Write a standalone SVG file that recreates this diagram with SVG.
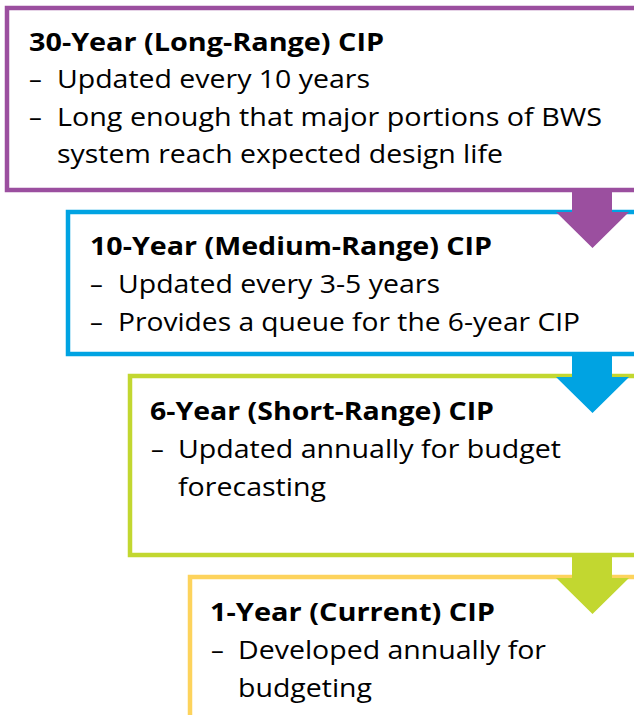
<svg xmlns="http://www.w3.org/2000/svg" width="634" height="715" viewBox="0 0 634 715">
  <style>
    .box { fill: #ffffff; stroke-width: 4.5; }
    .t { font-family: "Open Sans", "Liberation Sans", sans-serif; font-size: 25.5px; fill: #000000; }
    .h { font-family: "Open Sans", "Liberation Sans", sans-serif; font-size: 25.5px; font-weight: bold; fill: #000000; }
  </style>
  <rect width="634" height="715" fill="#ffffff"/>

  <g id="cip-30-year">
    <rect class="box" x="7" y="8" width="640" height="182" stroke="#9B4F9F"/>
    <text class="h" x="29" y="51" textLength="355" lengthAdjust="spacingAndGlyphs">30-Year (Long-Range) CIP</text>
    <text class="t" x="29" y="88">–</text>
    <text class="t" x="57" y="88" textLength="313" lengthAdjust="spacingAndGlyphs">Updated every 10 years</text>
    <text class="t" x="29" y="126">–</text>
    <text class="t" x="57" y="126" textLength="545" lengthAdjust="spacingAndGlyphs">Long enough that major portions of BWS</text>
    <text class="t" x="57" y="163" textLength="446" lengthAdjust="spacingAndGlyphs">system reach expected design life</text>
  </g>

  <g id="cip-10-year">
    <rect class="box" x="68" y="212" width="580" height="142" stroke="#00A3E2"/>
    <text class="h" x="90" y="255" textLength="402" lengthAdjust="spacingAndGlyphs">10-Year (Medium-Range) CIP</text>
    <text class="t" x="90" y="293">–</text>
    <text class="t" x="118" y="293" textLength="322" lengthAdjust="spacingAndGlyphs">Updated every 3-5 years</text>
    <text class="t" x="90" y="331">–</text>
    <text class="t" x="118" y="331" textLength="462" lengthAdjust="spacingAndGlyphs">Provides a queue for the 6-year CIP</text>
  </g>

  <g id="cip-6-year">
    <rect class="box" x="130" y="376" width="520" height="179" stroke="#C2D730"/>
    <text class="h" x="150" y="420" textLength="344" lengthAdjust="spacingAndGlyphs">6-Year (Short-Range) CIP</text>
    <text class="t" x="151" y="458">–</text>
    <text class="t" x="178" y="458" textLength="383" lengthAdjust="spacingAndGlyphs">Updated annually for budget</text>
    <text class="t" x="178" y="496" textLength="148" lengthAdjust="spacingAndGlyphs">forecasting</text>
  </g>

  <g id="cip-1-year">
    <rect class="box" x="190" y="577" width="460" height="160" stroke="#FDD35C"/>
    <text class="h" x="210" y="621" textLength="285" lengthAdjust="spacingAndGlyphs">1-Year (Current) CIP</text>
    <text class="t" x="211" y="659">–</text>
    <text class="t" x="238" y="659" textLength="308" lengthAdjust="spacingAndGlyphs">Developed annually for</text>
    <text class="t" x="238" y="697" textLength="134" lengthAdjust="spacingAndGlyphs">budgeting</text>
  </g>

  <g id="connectors">
    <polygon points="572,192 612,192 612,212 629,212 592.5,248 556,212 572,212" fill="#9B4F9F"/>
    <polygon points="572,356 612,356 612,377 629,377 592.5,413 556,377 572,377" fill="#00A3E2"/>
    <polygon points="572,557 612,557 612,578 629,578 592.5,614 556,578 572,578" fill="#C2D730"/>
  </g>
</svg>
